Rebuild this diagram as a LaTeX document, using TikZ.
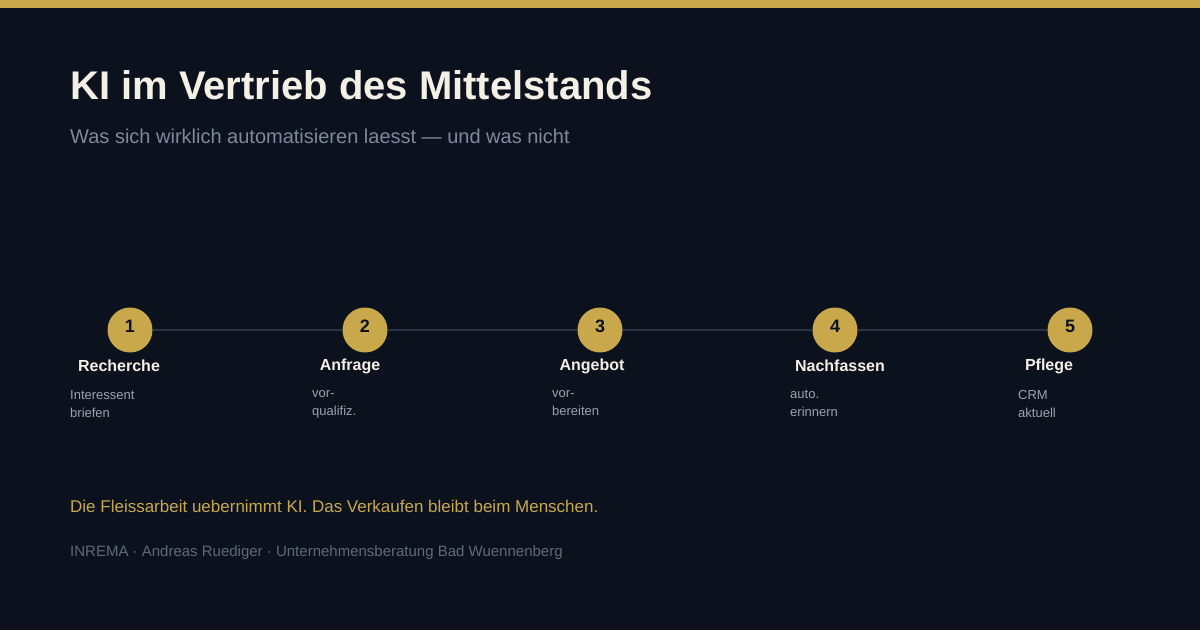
\documentclass[tikz,border=0pt]{standalone}
\usepackage{fontspec}
\setmainfont{Liberation Sans}
\usepackage{tikz}
\usetikzlibrary{positioning}

\definecolor{bgnavy}{HTML}{0B111D}
\definecolor{gold}{HTML}{C9A84C}
\definecolor{cream}{HTML}{F5F0E6}
\definecolor{slate}{HTML}{7E8A9C}
\definecolor{rail}{HTML}{2A3446}
\definecolor{descgray}{HTML}{9AA3B2}
\definecolor{footgray}{HTML}{5E6A7B}

\begin{document}
\begin{tikzpicture}
  [
    x=1pt, y=-1pt,
    stepdot/.style =
      {circle, fill=gold, minimum size=45pt, inner sep=0pt, text depth=8pt,
       font=\fontsize{18}{18}\selectfont\bfseries, text=bgnavy},
    steplabel/.style =
      {font=\fontsize{16}{16}\selectfont\bfseries, text=cream, inner sep=0pt},
    stepdesc/.style =
      {anchor=north west, align=left, inner sep=0pt, text=descgray,
       font=\fontsize{13}{18}\selectfont}
  ]
  \fill[bgnavy] (0,0) rectangle (1200,630);
  \useasboundingbox (0,0) rectangle (1200,630);
  \fill[gold] (0,0) rectangle (1200,8);

  \node [anchor=base west, inner sep=0pt, text=cream,
         font=\fontsize{40}{40}\selectfont\bfseries] at (70,99) (title)
        {KI im Vertrieb des Mittelstands};
  \node [anchor=base west, inner sep=0pt, text=slate,
         font=\fontsize{20}{20}\selectfont] at (70,143) (sub)
        {Was sich wirklich automatisieren laesst — und was nicht};

  \node [stepdot] at ( 130,330) (s1) {1};
  \node [stepdot] at ( 365,330) (s2) {2};
  \node [stepdot] at ( 600,330) (s3) {3};
  \node [stepdot] at ( 835,330) (s4) {4};
  \node [stepdot] at (1070,330) (s5) {5};

  \draw[rail, line width=2.5pt] (s1) -- (s2);
  \draw[rail, line width=2.5pt] (s2) -- (s3);
  \draw[rail, line width=2.5pt] (s3) -- (s4);
  \draw[rail, line width=2.5pt] (s4) -- (s5);

  \node [steplabel] at ( 119,366) (l1) {Recherche};
  \node [steplabel] at ( 350,366) (l2) {Anfrage};
  \node [steplabel] at ( 592,366) (l3) {Angebot};
  \node [steplabel] at ( 840,366) (l4) {Nachfassen};
  \node [steplabel] at (1049,366) (l5) {Pflege};

  \node [stepdesc] at (  70,390) (d1) {Interessent\\briefen};
  \node [stepdesc] at ( 312,390) (d2) {vor-\\qualifiz.};
  \node [stepdesc] at ( 552,390) (d3) {vor-\\bereiten};
  \node [stepdesc] at ( 790,390) (d4) {auto.\\erinnern};
  \node [stepdesc] at (1018,390) (d5) {CRM\\aktuell};

  \node [anchor=base west, inner sep=0pt, text=gold,
         font=\fontsize{17}{17}\selectfont] at (70,512) (claim)
        {Die Fleissarbeit uebernimmt KI. Das Verkaufen bleibt beim Menschen.};
  \node [anchor=base west, inner sep=0pt, text=footgray,
         font=\fontsize{15}{15}\selectfont] at (70,556) (foot)
        {INREMA · Andreas Ruediger · Unternehmensberatung Bad Wuennenberg};
\end{tikzpicture}
\end{document}
